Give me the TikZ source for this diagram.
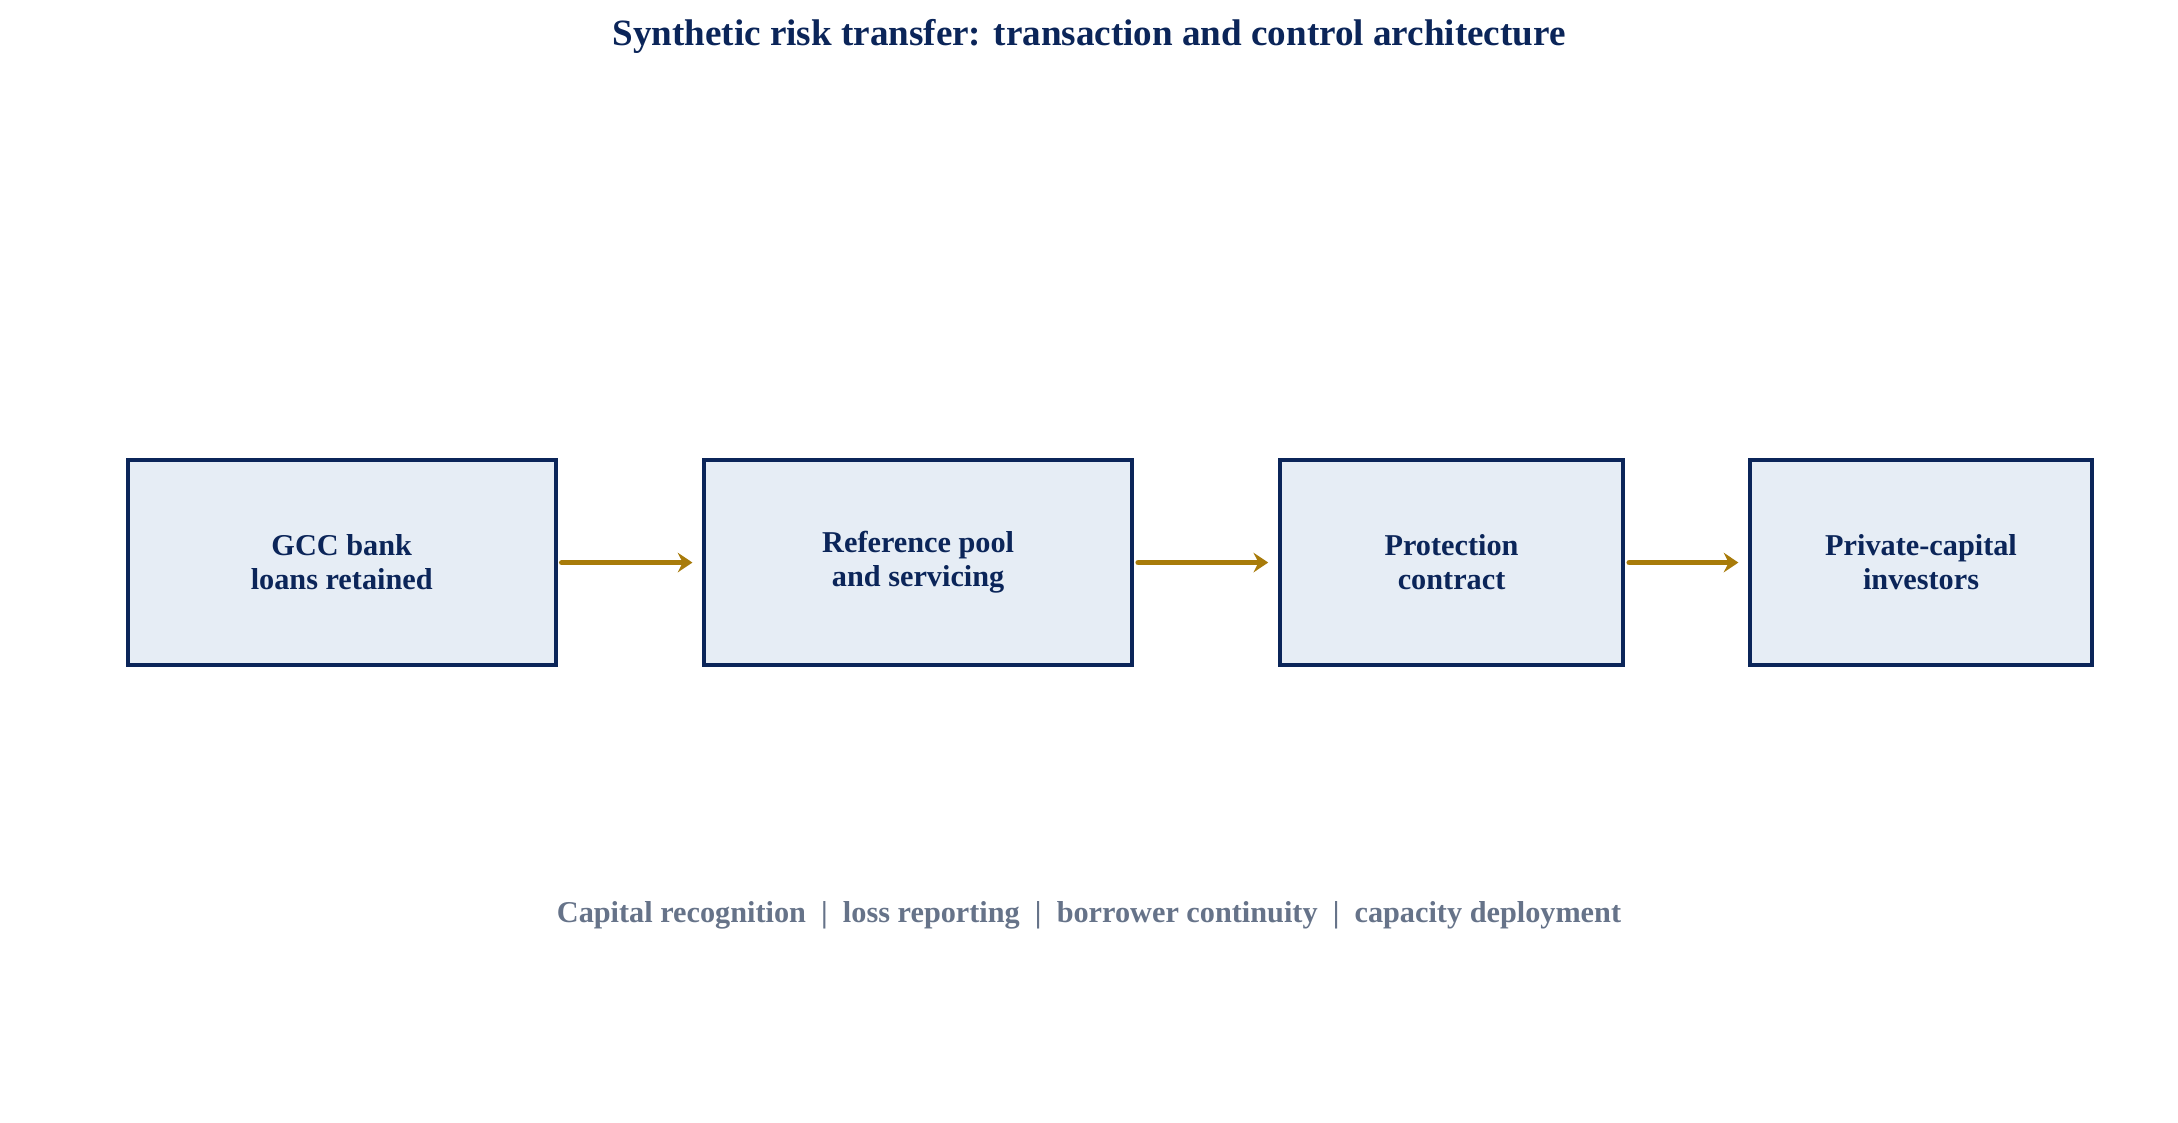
\documentclass[tikz,border=0pt]{standalone}
\usepackage{fontspec}
\setmainfont{Liberation Serif}
\usetikzlibrary{positioning,arrows.meta}
\definecolor{navy}{HTML}{0B2559}
\definecolor{boxfill}{HTML}{E6EDF5}
\definecolor{gold}{HTML}{A87B0A}
\definecolor{slate}{HTML}{667389}
\tikzset{
  stage/.style={draw=navy, fill=boxfill, line width=0.85pt, minimum height=1.48cm,
    align=center, text=navy, font=\fontsize{6.2}{7}\selectfont\bfseries},
  flow/.style={draw=gold, line width=1.2pt, line cap=round, -{Stealth[length=3pt,width=4pt,inset=1pt]}}
}
\begin{document}
\begin{tikzpicture}
        \useasboundingbox (0,0) rectangle (15.68,8.08);

        \node[text=navy, font=\fontsize{7.6}{9}\selectfont\bfseries] (title) at (7.84, 7.82) {Synthetic risk transfer: transaction and control architecture};

        \node[stage, minimum width=3.08cm] (loans) at (2.46, 4.03) {GCC bank\\loans retained};
        \node[stage, minimum width=3.08cm] (pool) at (6.61, 4.03) {Reference pool\\and servicing};
        \node[stage, minimum width=2.47cm] (contract) at (10.45, 4.03) {Protection\\contract};
        \node[stage, minimum width=2.46cm] (investors) at (13.83, 4.03) {Private-capital\\investors};

        \draw[flow] ([xshift=0.03cm]loans.east) -- ([xshift=-0.07cm]pool.west);
        \draw[flow] ([xshift=0.03cm]pool.east) -- ([xshift=-0.07cm]contract.west);
        \draw[flow] ([xshift=0.03cm]contract.east) -- ([xshift=-0.07cm]investors.west);

        \node[text=slate, font=\fontsize{6.2}{7}\selectfont\bfseries] (note) at (7.84, 1.49) {Capital recognition~~|~~loss reporting~~|~~borrower continuity~~|~~capacity deployment};

    \end{tikzpicture}
\end{document}
